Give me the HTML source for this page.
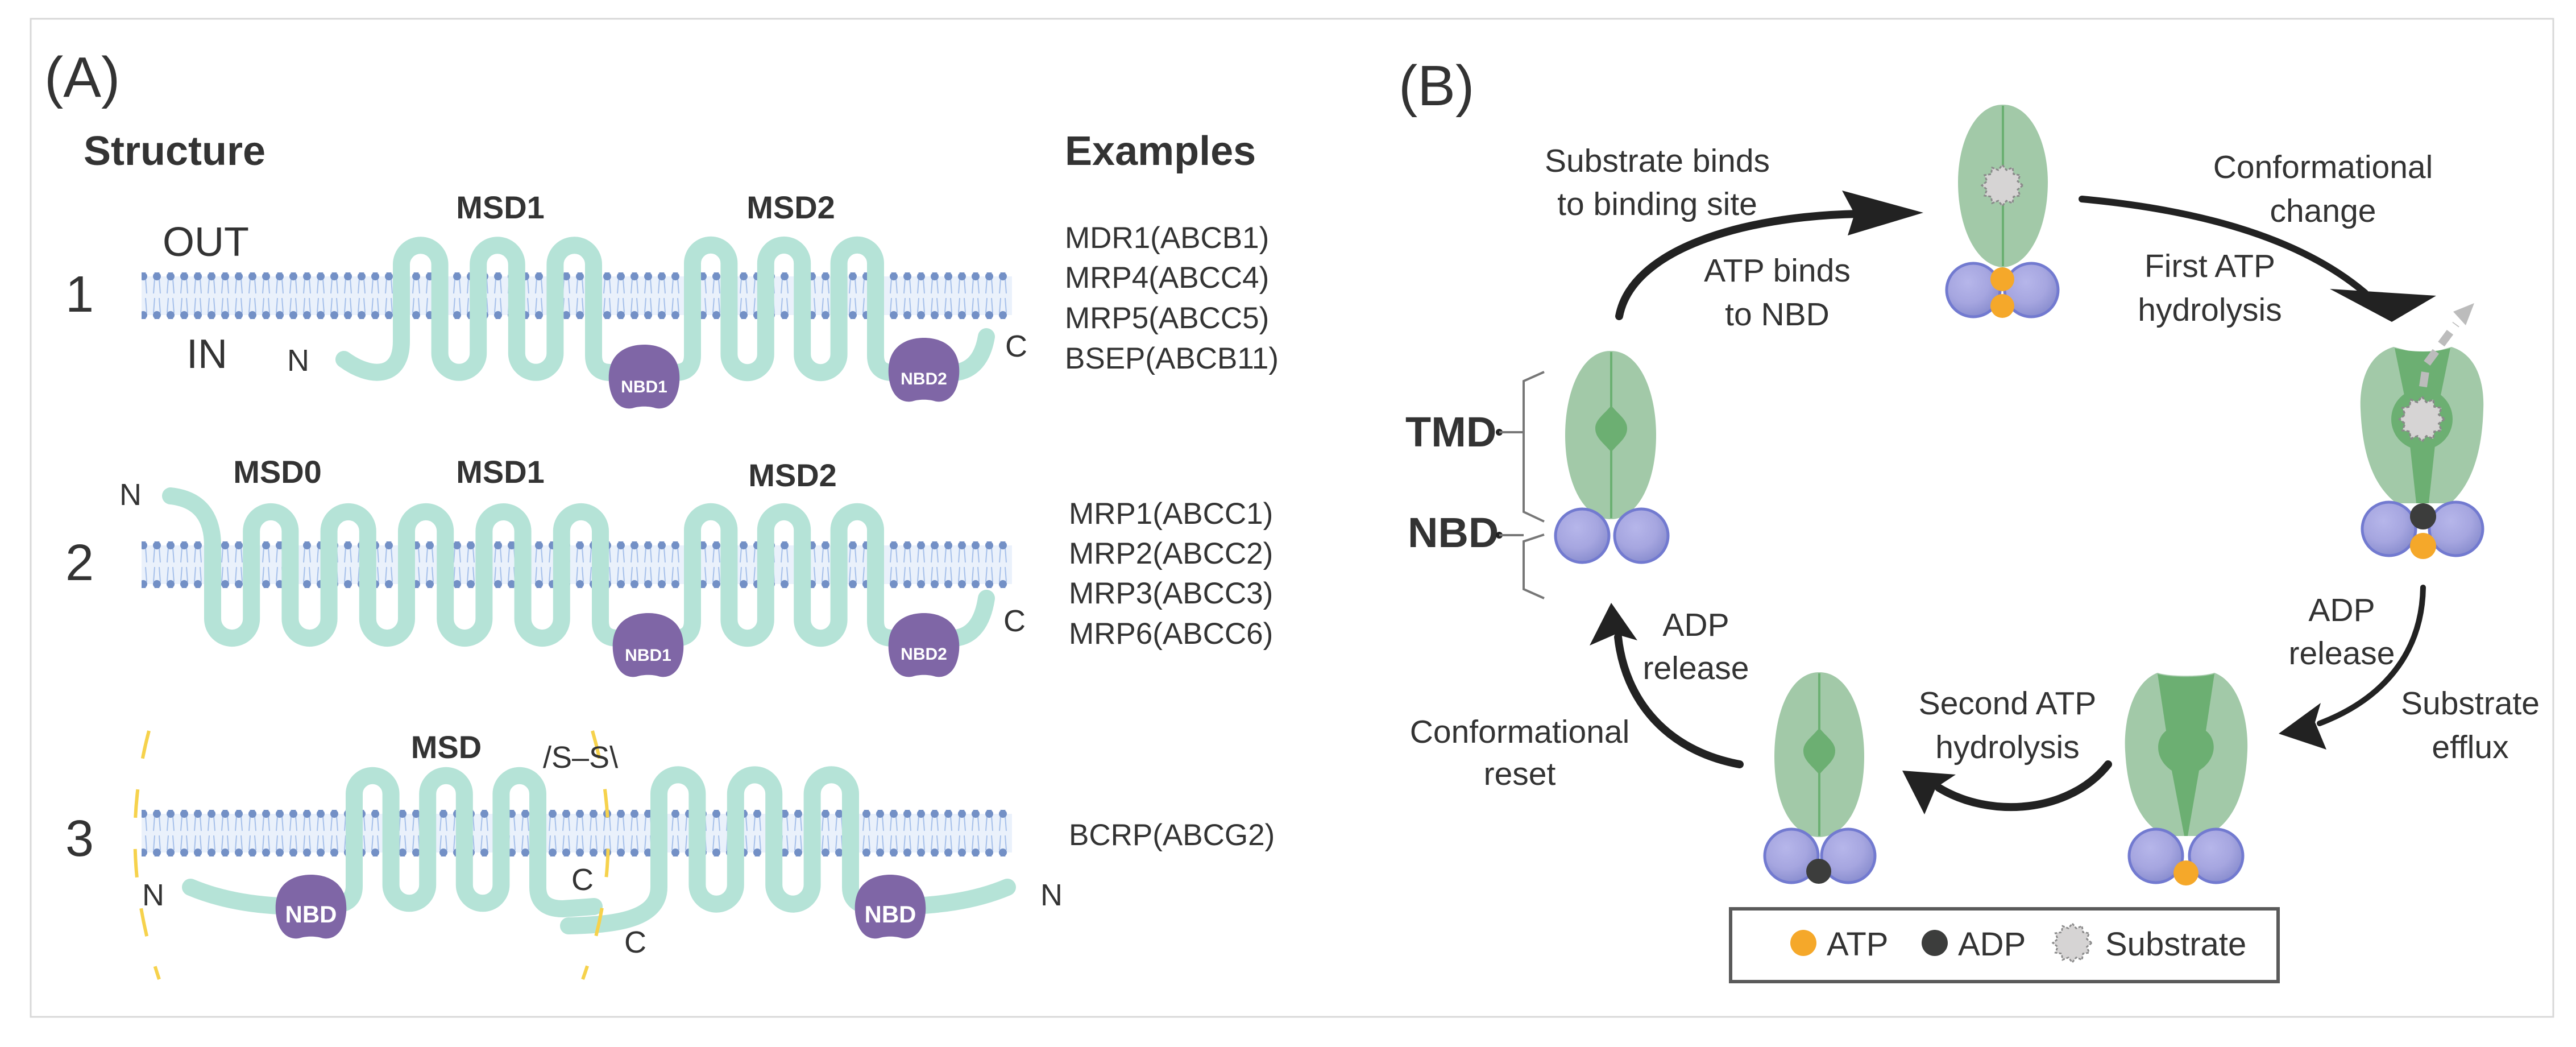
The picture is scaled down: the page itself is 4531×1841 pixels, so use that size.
<!DOCTYPE html>
<html><head><meta charset="utf-8"><style>
html,body{margin:0;padding:0;background:#fff;}
svg{display:block;}
text{font-family:"Liberation Sans",sans-serif;fill:#333;}
</style></head><body>
<svg width="4531" height="1841" viewBox="0 0 4531 1841" xmlns="http://www.w3.org/2000/svg">
<defs>
<pattern id="mem" patternUnits="userSpaceOnUse" width="24" height="80">
<rect x="0" y="6" width="24" height="68" fill="#eaf1fb"/>
<path d="M8,10 L6,36 M16,10 L18,36 M8,44 L6,70 M16,44 L18,70" stroke="#a6c0ea" stroke-width="2" fill="none"/>
<circle cx="12" cy="6" r="7" fill="#7390c6"/>
<circle cx="12" cy="74" r="7" fill="#7390c6"/>
</pattern>
<radialGradient id="gb" cx="0.4" cy="0.35" r="0.65">
<stop offset="0" stop-color="#b6b6ea"/><stop offset="0.6" stop-color="#a6a6e0"/><stop offset="1" stop-color="#8b8fd0"/>
</radialGradient>
<g id="nb"><circle r="47" fill="url(#gb)" stroke="#727ad0" stroke-width="5"/></g>
<polygon id="star" points="36,0 27,7.2 31.2,18 19.8,19.8 18,31.2 7.2,27 0,36 -7.2,27 -18,31.2 -19.8,19.8 -31.2,18 -27,7.2 -36,0 -27,-7.2 -31.2,-18 -19.8,-19.8 -18,-31.2 -7.2,-27 0,-36 7.2,-27 18,-31.2 19.8,-19.8 31.2,-18 27,-7.2" fill="#d6d4d4" stroke="#8a8a8a" stroke-width="3" stroke-dasharray="5 3"/>
<path id="nbdblob" d="M-62,8 C-66,-45 -28,-58 0,-58 C28,-58 66,-45 62,8 C58,50 34,58 18,53 C8,50 -8,50 -18,53 C-34,58 -58,50 -62,8 Z" fill="#7f66a6"/>
</defs>

<rect x="54" y="33" width="4437" height="1755" fill="#fff" stroke="#d8d8d8" stroke-width="3"/>

<text x="78" y="170" font-size="100">(A)</text>
<text x="147" y="290" font-size="72" font-weight="bold" fill="#222">Structure</text>
<text x="1873" y="290" font-size="72" font-weight="bold" fill="#222">Examples</text>

<rect x="249" y="479" width="1531" height="82" fill="url(#mem)"/>
<g transform="translate(0,473)"><rect x="249" y="479" width="1531" height="82" fill="url(#mem)"/></g>
<g transform="translate(0,945)"><rect x="249" y="479" width="1531" height="82" fill="url(#mem)"/></g>

<g fill="none" stroke="#b5e3d7" stroke-width="30" stroke-linecap="round" stroke-linejoin="round">
<path d="M605,632 C650,665 706,668 706,600 L706,465 A33.8,33.8 0 0 1 773.6,465 L773.6,621 A33.8,33.8 0 0 0 841.2,621 L841.2,465 A33.8,33.8 0 0 1 908.8,465 L908.8,621 A33.8,33.8 0 0 0 976.4,621 L976.4,465 A33.8,33.8 0 0 1 1044,465 L1044,625 Q1044,655 1074,655 L1188,655 Q1218,655 1218,625 L1218,463 A32.2,32.2 0 0 1 1282.4,463 L1282.4,623 A32.2,32.2 0 0 0 1346.8,623 L1346.8,463 A32.2,32.2 0 0 1 1411.2,463 L1411.2,623 A32.2,32.2 0 0 0 1475.6,623 L1475.6,463 A32.2,32.2 0 0 1 1540,463 L1540,625 Q1540,655 1570,655 L1680,655 Q1725,650 1735,592"/>
<path d="M300,872 Q374,880 374,960 L374,1088 A34.1,34.1 0 0 0 442.2,1088 L442.2,934 A34.1,34.1 0 0 1 510.4,934 L510.4,1088 A34.1,34.1 0 0 0 578.6,1088 L578.6,934 A34.1,34.1 0 0 1 646.8,934 L646.8,1088 A34.1,34.1 0 0 0 715,1088 L715,934 A34.1,34.1 0 0 1 783.2,934 L783.2,1088 A34.1,34.1 0 0 0 851.4,1088 L851.4,934 A34.1,34.1 0 0 1 919.6,934 L919.6,1088 A34.1,34.1 0 0 0 987.8,1088 L987.8,934 A34.1,34.1 0 0 1 1056,934 L1056,1092 Q1056,1122 1086,1122 L1188,1122 Q1218,1122 1218,1092 L1218,932 A32.2,32.2 0 0 1 1282.4,932 L1282.4,1090 A32.2,32.2 0 0 0 1346.8,1090 L1346.8,932 A32.2,32.2 0 0 1 1411.2,932 L1411.2,1090 A32.2,32.2 0 0 0 1475.6,1090 L1475.6,932 A32.2,32.2 0 0 1 1540,932 L1540,1092 Q1540,1122 1570,1122 L1680,1122 Q1725,1117 1735,1052"/>
<path d="M335,1560 C430,1600 540,1596 593,1590 Q623,1588 623,1558 L623,1396 A32.3,32.3 0 0 1 687.6,1396 L687.6,1556 A32.3,32.3 0 0 0 752.2,1556 L752.2,1396 A32.3,32.3 0 0 1 816.8,1396 L816.8,1556 A32.3,32.3 0 0 0 881.4,1556 L881.4,1396 A32.3,32.3 0 0 1 946,1396 L946,1560 Q946,1598 990,1598 L1045,1594"/>
<path d="M1000,1628 C1080,1626 1159,1618 1159,1560 L1159,1396 A33.7,33.7 0 0 1 1226.4,1396 L1226.4,1556 A33.7,33.7 0 0 0 1293.8,1556 L1293.8,1396 A33.7,33.7 0 0 1 1361.2,1396 L1361.2,1556 A33.7,33.7 0 0 0 1428.6,1556 L1428.6,1396 A33.7,33.7 0 0 1 1496,1396 L1496,1560 Q1496,1594 1540,1594 C1650,1596 1720,1582 1772,1560"/>
</g>

<use href="#nbdblob" transform="translate(1133,664)"/>
<use href="#nbdblob" transform="translate(1625,652)"/>
<use href="#nbdblob" transform="translate(1140,1136)"/>
<use href="#nbdblob" transform="translate(1625,1136)"/>
<use href="#nbdblob" transform="translate(547,1596)"/>
<use href="#nbdblob" transform="translate(1566,1596)"/>
<g font-weight="bold" text-anchor="middle">
<text x="1133" y="690" font-size="30" style="fill:#fff">NBD1</text>
<text x="1625" y="676" font-size="30" style="fill:#fff">NBD2</text>
<text x="1140" y="1162" font-size="30" style="fill:#fff">NBD1</text>
<text x="1625" y="1160" font-size="30" style="fill:#fff">NBD2</text>
<text x="547" y="1622" font-size="42" style="fill:#fff">NBD</text>
<text x="1566" y="1622" font-size="42" style="fill:#fff">NBD</text>
</g>

<g fill="none" stroke="#f6d24c" stroke-width="6" stroke-dasharray="50 55">
<path d="M262,1285 Q205,1500 280,1722"/>
<path d="M1042,1285 Q1105,1500 1025,1722"/>
</g>

<g font-weight="bold" font-size="56" fill="#222" text-anchor="middle">
<text x="880" y="384">MSD1</text>
<text x="1391" y="384">MSD2</text>
<text x="488" y="849">MSD0</text>
<text x="880" y="849">MSD1</text>
<text x="1394" y="855">MSD2</text>
<text x="785" y="1333">MSD</text>
</g>
<g font-size="90" fill="#222">
<text x="115" y="548">1</text>
<text x="115" y="1020">2</text>
<text x="115" y="1505">3</text>
</g>
<text x="286" y="450" font-size="72">OUT</text>
<text x="328" y="647" font-size="72">IN</text>
<g font-size="54">
<text x="505" y="652">N</text>
<text x="1768" y="627">C</text>
<text x="210" y="888">N</text>
<text x="1765" y="1110">C</text>
<text x="250" y="1592">N</text>
<text x="1005" y="1565">C</text>
<text x="1098" y="1675">C</text>
<text x="1830" y="1592">N</text>
<text x="955" y="1350">/S–S\</text>
</g>
<g font-size="53" fill="#333">
<text x="1873" y="436">MDR1(ABCB1)</text>
<text x="1873" y="506">MRP4(ABCC4)</text>
<text x="1873" y="577">MRP5(ABCC5)</text>
<text x="1873" y="648">BSEP(ABCB11)</text>
<text x="1880" y="921">MRP1(ABCC1)</text>
<text x="1880" y="991">MRP2(ABCC2)</text>
<text x="1880" y="1061">MRP3(ABCC3)</text>
<text x="1880" y="1132">MRP6(ABCC6)</text>
<text x="1880" y="1486">BCRP(ABCG2)</text>
</g>

<text x="2460" y="185" font-size="100">(B)</text>

<path d="M3523,184 C3572,184 3602,250 3602,320 C3602,400 3570,468 3523,470 C3476,468 3444,400 3444,320 C3444,250 3474,184 3523,184 Z" fill="#a2c9a8"/>
<line x1="3523" y1="186" x2="3523" y2="468" stroke="#6bb072" stroke-width="4"/>
<use href="#star" transform="translate(3522,326)"/>
<use href="#nb" transform="translate(3471,510)"/>
<use href="#nb" transform="translate(3573,510)"/>
<circle cx="3522" cy="491" r="21" fill="#f5a82a"/>
<circle cx="3522" cy="538" r="21" fill="#f5a82a"/>

<path d="M2833,617 C2885,617 2913,690 2913,765 C2913,850 2880,913 2833,913 C2786,913 2753,850 2753,765 C2753,690 2781,617 2833,617 Z" fill="#a2c9a8"/>
<line x1="2834" y1="619" x2="2834" y2="911" stroke="#6bb072" stroke-width="4"/>
<path d="M2834,713 C2848,730 2862,738 2862,753 C2862,770 2848,778 2834,795 C2820,778 2806,770 2806,753 C2806,738 2820,730 2834,713 Z" fill="#6caf72"/>
<use href="#nb" transform="translate(2783,942)"/>
<use href="#nb" transform="translate(2887,942)"/>
<text x="2472" y="785" font-size="74" font-weight="bold" fill="#222">TMD</text>
<text x="2476" y="962" font-size="74" font-weight="bold" fill="#222">NBD</text>
<circle cx="2637" cy="760" r="6" fill="#222"/>
<circle cx="2637" cy="941" r="6" fill="#222"/>
<g fill="none" stroke="#777" stroke-width="4">
<path d="M2637,760 L2680,760 M2716,654 L2680,670 L2680,900 L2716,917"/>
<path d="M2637,941 L2680,941 M2716,940 L2680,952 L2680,1036 L2716,1052"/>
</g>

<path d="M4210,610 C4230,615 4245,620 4262,620 C4280,620 4295,615 4312,610 C4360,625 4370,680 4368,720 C4366,790 4350,850 4310,885 L4215,885 C4170,850 4155,790 4152,720 C4150,680 4160,625 4210,610 Z" fill="#a2c9a8"/>
<path d="M4212,612 C4240,620 4285,620 4310,612 L4292,700 L4272,885 L4250,885 L4230,700 Z" fill="#6caf72"/>
<circle cx="4260" cy="737" r="54" fill="#6caf72"/>
<use href="#star" transform="translate(4260,737) scale(1.1)"/>
<g stroke="#bcbcbc" stroke-width="14" stroke-dasharray="26 16" fill="none"><path d="M4262,680 L4268,640 L4320,570"/></g>
<polygon points="4352,533 4315,548 4337,572" fill="#bcbcbc"/>
<use href="#nb" transform="translate(4202,930)"/>
<use href="#nb" transform="translate(4320,930)"/>
<circle cx="4262" cy="908" r="23" fill="#3c3d3c"/>
<circle cx="4262" cy="960" r="23" fill="#f5a82a"/>

<path d="M3795,1183 C3815,1190 3875,1190 3895,1183 C3940,1200 3955,1270 3953,1320 C3950,1400 3925,1450 3880,1470 L3810,1470 C3765,1450 3742,1400 3738,1320 C3735,1270 3750,1200 3795,1183 Z" fill="#a2c9a8"/>
<path d="M3795,1185 C3820,1192 3870,1192 3895,1185 L3880,1285 C3900,1300 3900,1335 3868,1355 L3848,1470 L3842,1470 L3820,1355 C3790,1335 3790,1300 3810,1285 Z" fill="#6caf72"/>
<use href="#nb" transform="translate(3792,1505)"/>
<use href="#nb" transform="translate(3898,1505)"/>
<circle cx="3845" cy="1535" r="22" fill="#f5a82a"/>

<path d="M3200,1182 C3252,1182 3279,1255 3279,1330 C3279,1415 3248,1470 3200,1472 C3152,1470 3121,1415 3121,1330 C3121,1255 3148,1182 3200,1182 Z" fill="#a2c9a8"/>
<line x1="3200" y1="1184" x2="3200" y2="1470" stroke="#6bb072" stroke-width="4"/>
<path d="M3200,1280 C3214,1297 3228,1305 3228,1320 C3228,1337 3214,1345 3200,1362 C3186,1345 3172,1337 3172,1320 C3172,1305 3186,1297 3200,1280 Z" fill="#6caf72"/>
<use href="#nb" transform="translate(3151,1505)"/>
<use href="#nb" transform="translate(3251,1505)"/>
<circle cx="3199" cy="1532" r="22" fill="#3c3d3c"/>

<g fill="none" stroke="#222" stroke-linecap="round">
<path d="M2848,556 C2870,440 3060,380 3270,376" stroke-width="14"/>
<path d="M3662,350 C3900,372 4060,430 4160,515" stroke-width="12"/>
<path d="M4262,1033 C4260,1150 4190,1230 4080,1272" stroke-width="10"/>
<path d="M3708,1344 C3640,1430 3500,1440 3410,1385" stroke-width="14"/>
<path d="M3060,1344 C2930,1320 2858,1230 2846,1120" stroke-width="14"/>
</g>
<g fill="#222">
<polygon points="3383,374 3240,335 3262,376 3250,414"/>
<polygon points="4098,508 4285,520 4207,566"/>
<polygon points="4008,1290 4082,1236 4072,1270 4092,1318"/>
<polygon points="3346,1355 3440,1362 3405,1385 3385,1432"/>
<polygon points="2834,1060 2796,1135 2842,1115 2880,1126"/>
</g>

<g font-size="57" text-anchor="middle" fill="#333">
<text x="2915" y="302">Substrate binds</text>
<text x="2915" y="378">to binding site</text>
<text x="3126" y="495">ATP binds</text>
<text x="3126" y="572">to NBD</text>
<text x="4086" y="313">Conformational</text>
<text x="4086" y="390">change</text>
<text x="3887" y="487">First ATP</text>
<text x="3887" y="564">hydrolysis</text>
<text x="4119" y="1092">ADP</text>
<text x="4119" y="1168">release</text>
<text x="4345" y="1256">Substrate</text>
<text x="4345" y="1333">efflux</text>
<text x="3531" y="1256">Second ATP</text>
<text x="3531" y="1333">hydrolysis</text>
<text x="2983" y="1118">ADP</text>
<text x="2983" y="1194">release</text>
<text x="2673" y="1306">Conformational</text>
<text x="2673" y="1380">reset</text>
</g>

<rect x="3044" y="1598" width="963" height="128" fill="none" stroke="#5a5a5a" stroke-width="6"/>
<circle cx="3172" cy="1658" r="23" fill="#f5a82a"/>
<text x="3213" y="1680" font-size="58" fill="#333">ATP</text>
<circle cx="3403" cy="1658" r="23" fill="#3c3d3c"/>
<text x="3444" y="1680" font-size="58" fill="#333">ADP</text>
<use href="#star" transform="translate(3645,1658) scale(0.95)"/>
<text x="3703" y="1680" font-size="58" fill="#333">Substrate</text>
</svg>
</body></html>
